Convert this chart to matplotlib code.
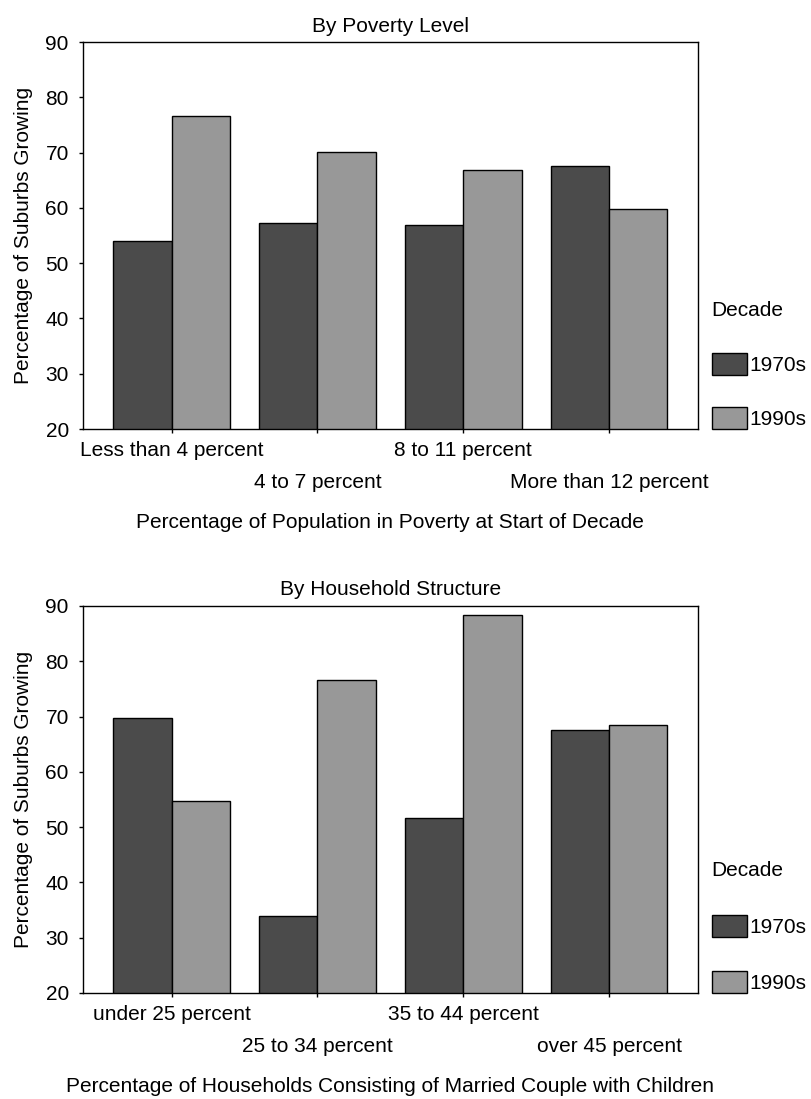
import matplotlib
matplotlib.use("Agg")
import matplotlib.pyplot as plt
import numpy as np

plt.rcParams["font.family"] = ["Liberation Sans", "DejaVu Sans"]
plt.rcParams["font.size"] = 15

decades = ["1970s", "1990s"]
colors = ["#4b4b4b", "#989898"]

poverty_cats = ["Less than 4 percent", "4 to 7 percent", "8 to 11 percent", "More than 12 percent"]
poverty_1970s = [54.0, 57.2, 56.9, 67.6]
poverty_1990s = [76.6, 70.1, 66.9, 59.8]

household_cats = ["under 25 percent", "25 to 34 percent", "35 to 44 percent", "over 45 percent"]
household_1970s = [69.7, 34.0, 51.6, 67.5]
household_1990s = [54.8, 76.6, 88.4, 68.4]


def draw_panel(ax, cats, s70, s90, title, xlabel, spacing):
    x = np.arange(len(cats))
    w = 0.4
    ax.bar(x - w / 2, s70, w, color=colors[0], edgecolor="black", linewidth=1, label=decades[0])
    ax.bar(x + w / 2, s90, w, color=colors[1], edgecolor="black", linewidth=1, label=decades[1])
    ax.set_ylim(20, 90)
    ax.set_xlim(-0.61, len(cats) - 1 + 0.61)
    ax.set_yticks(range(20, 91, 10))

    # staggered category labels: even ones on the first row, odd ones below
    ax.set_xticks(x[::2], cats[::2])
    ax.set_xticks(x[1::2], cats[1::2], minor=True)
    ax.tick_params(axis="x", which="major", length=3, width=1, pad=5.4)
    ax.tick_params(axis="x", which="minor", length=3, width=1, pad=29)
    ax.tick_params(axis="y", length=3, width=1, pad=7)

    for sp in ax.spines.values():
        sp.set_linewidth(1)

    ax.set_title(title, fontsize=15, pad=7.6)
    ax.set_xlabel(xlabel, labelpad=15)
    ax.set_ylabel("Percentage of Suburbs Growing", labelpad=9)

    leg = ax.legend(title="Decade", loc="lower left", bbox_to_anchor=(1.022, 0),
                    frameon=False, borderaxespad=0, borderpad=0,
                    handlelength=1.68, handleheight=1.25, handletextpad=0.16,
                    labelspacing=spacing, fontsize=15, title_fontsize=15)
    leg._legend_box.align = "left"


fig = plt.figure(figsize=(8.12, 10.99), dpi=100)
ax1 = fig.add_axes([0.1018, 0.6096, 0.7578, 0.3521])
ax2 = fig.add_axes([0.1018, 0.0965, 0.7578, 0.3521])

draw_panel(ax1, poverty_cats, poverty_1970s, poverty_1990s, "By Poverty Level",
           "Percentage of Population in Poverty at Start of Decade", 1.55)
draw_panel(ax2, household_cats, household_1970s, household_1990s, "By Household Structure",
           "Percentage of Households Consisting of Married Couple with Children", 1.65)

fig.savefig("out.png", dpi=100)
